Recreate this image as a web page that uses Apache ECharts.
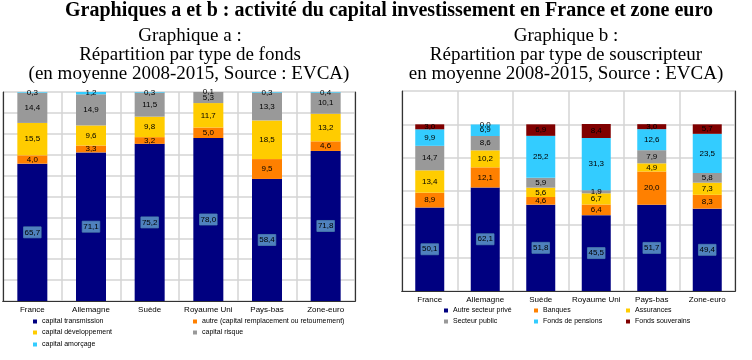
<!DOCTYPE html>
<html><head><meta charset="utf-8">
<script src="https://cdn.jsdelivr.net/npm/echarts@6/dist/echarts.min.js"></script>
<style>html,body{margin:0;padding:0;background:#fff}#c{width:752px;height:360px}</style>
</head><body><div id="c"></div>
<script>
const categories = ['France', 'Allemagne', 'Suède', 'Royaume Uni', 'Pays-bas', 'Zone-euro'];

// Graphique a : type de fonds
const aNames = ['capital transmission', 'autre (capital remplacement ou retournement)', 'capital développement', 'capital risque', 'capital amorçage'];
const aTransmission = [65.7, 71.1, 75.2, 78.0, 58.4, 71.8];
const aAutre        = [4.0, 3.3, 3.2, 5.0, 9.5, 4.6];
const aDeveloppement= [15.5, 9.6, 9.8, 11.7, 18.5, 13.2];
const aRisque       = [14.4, 14.9, 11.5, 5.3, 13.3, 10.1];
const aAmorcage     = [0.3, 1.2, 0.3, 0.1, 0.3, 0.4];

// Graphique b : type de souscripteur
const bNames = ['Autre secteur privé', 'Banques', 'Assurances', 'Secteur public', 'Fonds de pensions', 'Fonds souverains'];
const bPrive      = [50.1, 62.1, 51.8, 45.5, 51.7, 49.4];
const bBanques    = [8.9, 12.1, 4.6, 6.4, 20.0, 8.3];
const bAssurances = [13.4, 10.2, 5.6, 6.7, 4.9, 7.3];
const bPublic     = [14.7, 8.6, 5.9, 1.9, 7.9, 5.8];
const bPensions   = [9.9, 6.9, 25.2, 31.3, 12.6, 23.5];
const bSouverains = [3.0, 0.0, 6.9, 8.4, 3.0, 5.7];

const colorsA = ['#000080', '#FF8000', '#FFCC00', '#999999', '#33CCFF'];
const colorsB = ['#000080', '#FF8000', '#FFCC00', '#999999', '#33CCFF', '#800000'];

const fmt = v => Number(v).toFixed(1).replace('.', ',');
const SANS = '"Liberation Sans", Arial, sans-serif';
const SERIF = '"Liberation Serif", "Times New Roman", serif';

function mkSeries(names, datas, colors, gi, barWidth, stack) {
  return datas.map((d, i) => ({
    name: names[i], type: 'bar', stack: stack, data: d,
    xAxisIndex: gi * 2, yAxisIndex: gi * 2, barWidth: barWidth,
    itemStyle: { color: colors[i] },
    label: i === 0 ? {
      show: true, position: 'inside', formatter: p => fmt(p.value),
      fontFamily: SANS, fontSize: 8, color: '#000',
      backgroundColor: '#4F81BD', borderColor: '#3A6599', borderWidth: 0.5, padding: [2, 1, 1, 1]
    } : {
      show: true, position: 'inside', formatter: p => fmt(p.value),
      fontFamily: SANS, fontSize: 8, color: '#000'
    }
  }));
}

function axesFor(gi, max, interval) {
  const split = { show: true, lineStyle: { color: '#d4d4d4', width: 1.5 } };
  const frame = { show: true, lineStyle: { color: '#333', width: 1.2 } };
  return {
    x: [
      { type: 'category', gridIndex: gi, data: categories, position: 'bottom',
        axisTick: { show: false }, axisLine: frame,
        splitLine: split,
        axisLabel: { fontFamily: SANS, fontSize: 8, color: '#000', margin: 5, interval: 0 } },
      { type: 'category', gridIndex: gi, data: categories, position: 'top',
        axisTick: { show: false }, axisLine: frame, axisLabel: { show: false }, splitLine: { show: false } }
    ],
    y: [
      { type: 'value', gridIndex: gi, min: 0, max: max, interval: interval, position: 'left',
        axisLine: frame, axisTick: { show: false }, axisLabel: { show: false }, splitLine: split },
      { type: 'value', gridIndex: gi, min: 0, max: max, interval: interval, position: 'right',
        axisLine: frame, axisTick: { show: false }, axisLabel: { show: false }, splitLine: { show: false } }
    ]
  };
}

const axA = axesFor(0, 100, 10);
const axB = axesFor(1, 120, 20);

const seriesA = mkSeries(aNames, [aTransmission, aAutre, aDeveloppement, aRisque, aAmorcage], colorsA, 0, 30, 'a');
const seriesB = mkSeries(bNames, [bPrive, bBanques, bAssurances, bPublic, bPensions, bSouverains], colorsB, 1, 29, 'b');

function leg(name, left, top) {
  return { data: [name], left: left, top: top, padding: 0, icon: 'rect', itemWidth: 4, itemHeight: 4,
    selectedMode: false, textStyle: { fontFamily: SANS, fontSize: 7, color: '#000' } };
}

const legends = [
  leg(aNames[0], 33, 318), leg(aNames[1], 193, 318),
  leg(aNames[2], 33, 329), leg(aNames[3], 193, 329),
  leg(aNames[4], 33, 341),
  leg(bNames[0], 444, 307), leg(bNames[1], 534, 307), leg(bNames[2], 626, 307),
  leg(bNames[3], 444, 318), leg(bNames[4], 534, 318), leg(bNames[5], 626, 318)
];

function txt(t, x, y, font) {
  return { type: 'text', x: x, y: y, style: { text: t, font: font, fill: '#000', textAlign: 'center', textVerticalAlign: 'middle' } };
}

const chart = echarts.init(document.getElementById('c'));
chart.setOption({
  animation: false,
  backgroundColor: '#fff',
  graphic: [
    txt('Graphiques a et b : activité du capital investissement en France et zone euro', 389, 11, 'bold 20px ' + SERIF),
    txt('Graphique a :', 190, 36, '19px ' + SERIF),
    txt('Répartition par type de fonds', 190, 55, '19px ' + SERIF),
    txt('(en moyenne 2008-2015, Source : EVCA)', 189, 74, '19px ' + SERIF),
    txt('Graphique b :', 566, 36, '19px ' + SERIF),
    txt('Répartition par type de souscripteur', 566, 55, '19px ' + SERIF),
    txt('en moyenne 2008-2015, Source : EVCA)', 566, 74, '19px ' + SERIF)
  ],
  grid: [
    { left: 3, right: 397, top: 92, bottom: 59 },
    { left: 402, right: 17, top: 91, bottom: 69 }
  ],
  legend: legends,
  xAxis: axA.x.concat(axB.x),
  yAxis: axA.y.concat(axB.y),
  series: seriesA.concat(seriesB)
});
</script></body></html>
